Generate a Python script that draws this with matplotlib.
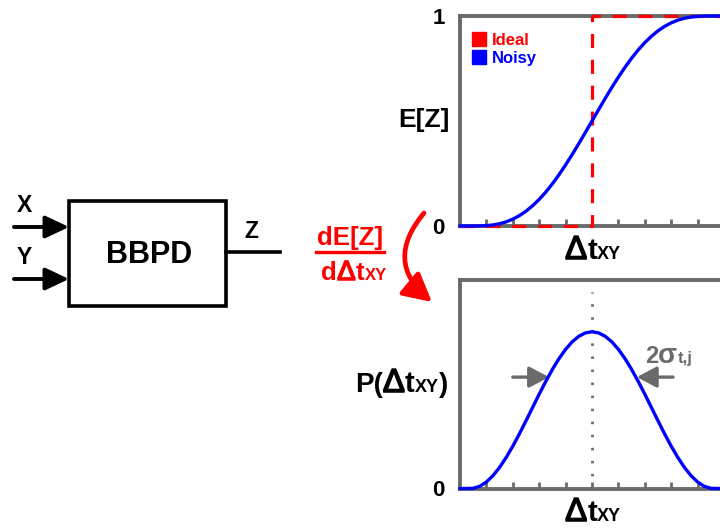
import matplotlib
matplotlib.use("Agg")
import matplotlib.pyplot as plt
import matplotlib.patheffects as pe
from matplotlib.lines import Line2D
from matplotlib.patches import FancyArrowPatch, Rectangle

plt.rcParams['font.family'] = ['Liberation Sans', 'DejaVu Sans']
plt.rcParams['font.weight'] = 'bold'

# time difference axis (arbitrary units, centred on 0)
dt = [-5, -4.75, -4.5, -4.25, -4, -3.75, -3.5, -3.25, -3, -2.75, -2.5,
      -2.25, -2, -1.75, -1.5, -1.25, -1, -0.75, -0.5, -0.25, 0,
      0.25, 0.5, 0.75, 1, 1.25, 1.5, 1.75, 2, 2.25, 2.5,
      2.75, 3, 3.25, 3.5, 3.75, 4, 4.25, 4.5, 4.75, 5]
# expected BBPD output, noisy case
ez_noisy = [0.0, 0.0, 0.0, 0.0004, 0.0019, 0.005, 0.0108, 0.0198, 0.0326, 0.0494, 0.0706,
            0.0964, 0.1268, 0.1617, 0.201, 0.2442, 0.2909, 0.3405, 0.3923, 0.4458, 0.5,
            0.5542, 0.6077, 0.6595, 0.7091, 0.7558, 0.799, 0.8383, 0.8732, 0.9036, 0.9294,
            0.9506, 0.9674, 0.9802, 0.9892, 0.995, 0.9981, 0.9996, 1.0, 1.0, 1.0]
# ideal BBPD: a step at dt = 0
ideal_dt = [-5, 0, 5]
ideal_ez = [0, 1, 1]
# jitter distribution (lower panel)
p_dt = [0.0, 0.0, 0.0009, 0.0106, 0.031, 0.0616, 0.1012, 0.1487, 0.2025, 0.2615, 0.324,
        0.3878, 0.4513, 0.5127, 0.5698, 0.6214, 0.6659, 0.7019, 0.7283, 0.7445, 0.75,
        0.7445, 0.7283, 0.7019, 0.6659, 0.6214, 0.5698, 0.5127, 0.4513, 0.3878, 0.324,
        0.2615, 0.2025, 0.1487, 0.1012, 0.0616, 0.031, 0.0106, 0.0009, 0.0, 0.0]
tick_pos = [-4, -3, -2, -1, 0, 1, 2, 3, 4]
sigma_span = [-1.63, 1.70]   # where the 2*sigma arrows touch the curve
sigma_level = 0.533

GRAY = '#6a6a6a'
RED = '#ff0000'
BLUE = '#0000ff'

fig = plt.figure(figsize=(7.2, 5.28), dpi=100)
W, H = 720, 528


def make_panel(rect):
    ax = fig.add_axes(rect)
    ax.set_xlim(-5, 5)
    ax.set_ylim(0, 1)
    for side in ['left', 'top', 'bottom', 'right']:
        ax.spines[side].set_color(GRAY)
        ax.spines[side].set_linewidth(2.8)
    ax.set_xticks(tick_pos)
    ax.set_xticklabels([])
    ax.tick_params(axis='x', direction='in', length=5, width=2, color=GRAY)
    ax.tick_params(axis='y', length=0, pad=11, labelsize=16)
    return ax


# upper panel: E[Z]
ax1 = make_panel([460 / W, 1 - 226 / H, 264 / W, 210 / H])
ax1.step(ideal_dt, ideal_ez, where='post', color=RED, lw=2.3,
         ls=(0, (4.4, 3.7)), clip_on=False, zorder=3)
ax1.plot(dt, ez_noisy, color=BLUE, lw=2.4, clip_on=False, zorder=4)
ax1.set_yticks([0, 1])
ax1.set_yticklabels(['0', '1'], fontweight='bold')
ax1.set_ylabel('E[Z]', fontsize=19, fontweight='bold', rotation=0,
               ha='right', va='center')
ax1.yaxis.set_label_coords(-0.038, 0.505)
handles = [Line2D([], [], ls='', marker='s', ms=10, color=RED),
           Line2D([], [], ls='', marker='s', ms=10, color=BLUE)]
ax1.legend(handles, ['Ideal', 'Noisy'], loc='upper left',
           bbox_to_anchor=(0.045, 0.92), frameon=False, borderpad=0,
           borderaxespad=0, handlelength=0.8, handletextpad=0.4,
           labelspacing=0.2, labelcolor=[RED, BLUE],
           prop={'weight': 'bold', 'size': 12})

# lower panel: P(dt)
ax2 = make_panel([460 / W, 1 - 488.5 / H, 264 / W, 209 / H])
ax2.axvline(0, ymin=0, ymax=0.94, color=GRAY, lw=2, ls=(0, (0.9, 3.8)), zorder=1)
ax2.plot(dt, p_dt, color=BLUE, lw=2.4, clip_on=False, zorder=4)
ax2.set_yticks([0])
ax2.set_yticklabels(['0'], fontweight='bold')
for tip, tail in [(sigma_span[0], -3.0), (sigma_span[1], 3.07)]:
    ax2.annotate('', xy=(tip, sigma_level), xytext=(tail, sigma_level),
                 arrowprops=dict(arrowstyle='-|>,head_length=0.75,head_width=0.4',
                                 mutation_scale=16, color=GRAY, lw=2.4,
                                 shrinkA=0, shrinkB=0))

# overlay in pixel coordinates for the block diagram and labels
ov = fig.add_axes([0, 0, 1, 1])
ov.set_xlim(0, W)
ov.set_ylim(H, 0)
ov.axis('off')
renderer = fig.canvas.get_renderer()


def run_text(pieces, x, y, color='black', ha='center'):
    # pieces: (string, size, weight) laid out left to right on one baseline
    objs = []
    for s, size, wt in pieces:
        t = ov.text(0, y, s, fontsize=size, color=color, fontweight=wt,
                    va='baseline', ha='left')
        if wt == 'normal':
            # thicken the regular delta a little (between regular and bold)
            t.set_path_effects([pe.withStroke(linewidth=1.1, foreground=color)])
        objs.append(t)
    widths = [t.get_window_extent(renderer).width for t in objs]
    total = sum(widths)
    x0 = {'center': x - total / 2, 'right': x - total, 'left': x}[ha]
    for t, w in zip(objs, widths):
        t.set_x(x0)
        x0 += w
    return x0


dtxy = [('Δ', 24, 'normal'), ('t', 21, 'bold'), ('XY', 13, 'bold')]
run_text(dtxy, 593, 259)
run_text(dtxy, 593, 521)
run_text([('P(', 20, 'bold')] + dtxy + [(')', 20, 'bold')], 448, 392, ha='right')
run_text([('2', 17, 'bold'), ('σ', 20, 'bold'), ('t,j', 12, 'bold')],
         645, 363, color=GRAY, ha='left')

# BBPD block
ov.add_patch(Rectangle((69, 201), 157, 105, fill=False, ec='black', lw=2.6))
ov.text(149, 255, 'BBPD', fontsize=22, fontweight='bold', ha='center', va='center')
for yy, name in [(227, 'X'), (279, 'Y')]:
    ov.add_patch(FancyArrowPatch((14, yy), (69, yy),
                                 arrowstyle='-|>,head_length=0.72,head_width=0.34',
                                 mutation_scale=20, color='black', lw=2.8,
                                 shrinkA=0, shrinkB=0))
    ov.text(24, yy - 22, name, fontsize=16.5, fontweight='bold', ha='center', va='center')
ov.plot([226, 280], [252, 252], color='black', lw=2.6)
ov.text(251, 232, 'Z', fontsize=16.5, fontweight='bold', ha='center', va='center')

# derivative label and curved arrow
run_text([('dE[Z]', 18.5, 'bold')], 350, 245, color=RED)
ov.plot([316, 384], [252, 252], color=RED, lw=2.4)
run_text([('d', 18.5, 'bold'), ('Δ', 20, 'normal'), ('t', 18.5, 'bold'),
          ('XY', 12, 'bold')], 354, 280, color=RED)
ov.add_patch(FancyArrowPatch((424, 213), (432, 302), connectionstyle='arc3,rad=0.5',
                             arrowstyle='-|>,head_length=0.85,head_width=0.45',
                             mutation_scale=20, color=RED, lw=3.4,
                             shrinkA=0, shrinkB=0))

fig.savefig('out.png', dpi=100)
